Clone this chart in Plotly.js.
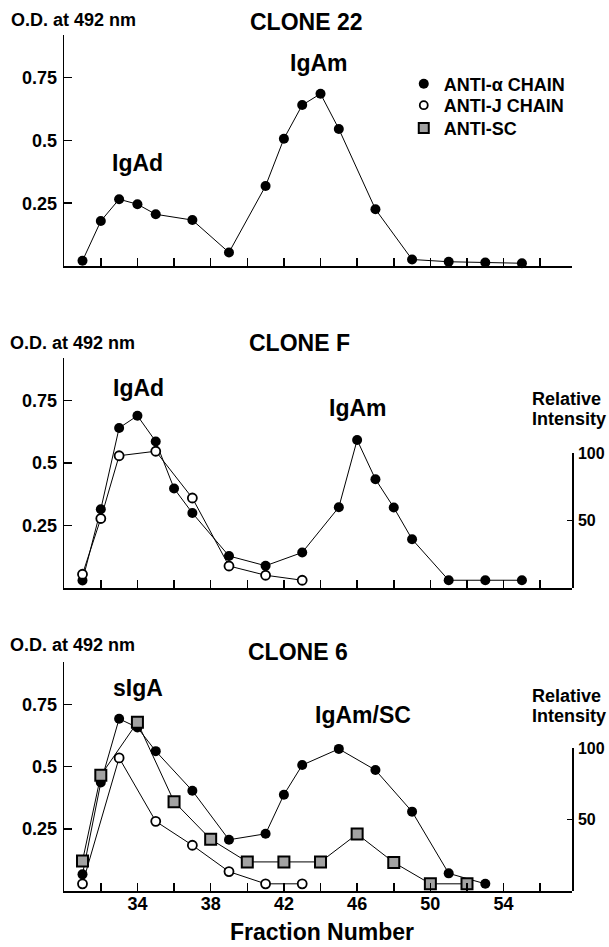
<!DOCTYPE html>
<html><head><meta charset="utf-8">
<script src="https://cdn.plot.ly/plotly-3.0.1.min.js"></script>
<style>html,body{margin:0;padding:0;background:#fff}#chart{width:609px;height:947px}</style>
</head><body><div id="chart"></div>
<script>
// ---- data (fraction number vs O.D. at 492 nm) ----
const clone22Frac  = [31,32,33,34,35,37,39,41,42,43,44,45,47,49,51,53,55];
const clone22Alpha = [0.021,0.179,0.266,0.246,0.206,0.183,0.054,0.319,0.507,0.641,0.686,0.546,0.226,0.026,0.017,0.014,0.011];

const cloneFAlphaFrac = [31,32,33,34,35,36,37,39,41,43,45,46,47,48,49,51,53,55];
const cloneFAlpha     = [0.030,0.315,0.640,0.689,0.586,0.398,0.300,0.128,0.089,0.142,0.323,0.592,0.435,0.322,0.195,0.031,0.031,0.031];
const cloneFJFrac     = [31,32,33,35,37,39,41,43];
const cloneFJ         = [0.055,0.278,0.529,0.547,0.360,0.088,0.051,0.031];

const clone6AlphaFrac = [31,32,33,34,35,37,39,41,42,43,45,47,49,51,53];
const clone6Alpha     = [0.067,0.436,0.692,0.657,0.562,0.403,0.206,0.230,0.387,0.506,0.571,0.486,0.319,0.071,0.029];
const clone6JFrac     = [31,33,35,37,39,41,43];
const clone6J         = [0.029,0.535,0.280,0.184,0.078,0.029,0.029];
const clone6SCFrac    = [31,32,34,36,38,40,42,44,46,48,50,52];
const clone6SC        = [0.121,0.465,0.678,0.359,0.208,0.117,0.117,0.117,0.229,0.115,0.029,0.029];

const seriesNames = ['ANTI-\u03b1 CHAIN','ANTI-J CHAIN','ANTI-SC'];
const xTickVals = [32,34,36,38,40,42,44,46,48,50,52,54,56];
const xTickText = ['','34','','38','','42','','46','','50','','54',''];
const yTickVals = [0.25,0.5,0.75];
const yTickText = ['0.25','0.5','0.75'];
const riTickVals = [50,100];
const riTickText = ['50','100'];
const panelTitles = ['CLONE 22','CLONE F','CLONE 6'];

// ---- styles ----
const FONT = 'Liberation Sans, Arial, sans-serif';
const mAlpha = {symbol:'circle', size:10, color:'#000', line:{color:'#000', width:0}};
const mJ     = {symbol:'circle', size:9, color:'#fff', line:{color:'#000', width:1.8}};
const mSC    = {symbol:'square', size:11, color:'#a2a2a2', line:{color:'#000', width:2}};
const ln = {color:'#000', width:1};

function tr(x, y, xa, ya, marker){
  return {x:x, y:y, xaxis:xa, yaxis:ya, type:'scatter', mode:'lines+markers',
          line:ln, marker:marker, showlegend:false, hoverinfo:'skip', cliponaxis:false};
}
function legTr(name, marker, leg){
  return {x:[null], y:[null], xaxis:'x', yaxis:'y', type:'scatter', mode:'markers',
          marker:marker, name:name, legend:leg, showlegend:true, hoverinfo:'skip'};
}

const data = [
  tr(clone22Frac, clone22Alpha, 'x', 'y', mAlpha),
  tr(cloneFAlphaFrac, cloneFAlpha, 'x2', 'y2', mAlpha),
  tr(cloneFJFrac, cloneFJ, 'x2', 'y2', mJ),
  tr(clone6AlphaFrac, clone6Alpha, 'x3', 'y3', mAlpha),
  tr(clone6JFrac, clone6J, 'x3', 'y3', mJ),
  tr(clone6SCFrac, clone6SC, 'x3', 'y3', mSC),
  // right-hand relative intensity axes
  {x:[], y:[], xaxis:'x2', yaxis:'y4', type:'scatter', mode:'markers', showlegend:false, hoverinfo:'skip'},
  {x:[], y:[], xaxis:'x3', yaxis:'y5', type:'scatter', mode:'markers', showlegend:false, hoverinfo:'skip'},
  // legend entries (one legend per row for exact row spacing)
  legTr(seriesNames[0], mAlpha, 'legend'),
  legTr(seriesNames[1], Object.assign({}, mJ, {size:8}), 'legend2'),
  legTr(seriesNames[2], Object.assign({}, mSC, {size:10}), 'legend3')
];

const XD = [0.1054, 0.9397];
const TF = {family:FONT, size:18, weight:'bold', color:'#000'};
function xax(anchor, showLabels){
  return {domain:XD, anchor:anchor, range:[30,57.75], tickmode:'array', tickvals:xTickVals,
    ticktext: showLabels ? xTickText : xTickVals.map(()=>''),
    ticks:'inside', ticklen:8, tickwidth:1.5, tickcolor:'#000', ticklabelstandoff:-5,
    showline:true, linewidth:2, linecolor:'#000', showgrid:false, zeroline:false,
    tickfont:TF, automargin:false, fixedrange:true};
}
function yax(anchor, dom){
  return {domain:dom, anchor:anchor, range:[0,0.92], tickmode:'array', tickvals:yTickVals, ticktext:yTickText,
    ticks:'inside', ticklen:8, tickwidth:1.5, tickcolor:'#000', ticklabelstandoff:2,
    showline:true, linewidth:1.5, linecolor:'#000', showgrid:false, zeroline:false,
    tickfont:TF, automargin:false, fixedrange:true};
}
function rax(dom){
  return {domain:dom, anchor:'free', position:XD[1], side:'right', range:[0,100],
    tickmode:'array', tickvals:riTickVals, ticktext:riTickText,
    ticks:'inside', ticklen:5, tickwidth:1.5, tickcolor:'#000', ticklabelstandoff:1,
    showline:true, linewidth:1.5, linecolor:'#000', showgrid:false, zeroline:false,
    tickfont:{family:FONT, size:16, weight:'bold', color:'#000'}, automargin:false, fixedrange:true};
}

function ann(text, x, y, size, xanchor, yanchor){
  return {text:text, x:x, y:y, xref:'paper', yref:'paper', showarrow:false,
    xanchor:xanchor||'center', yanchor:yanchor||'middle',
    font:{family:FONT, size:size, weight:'bold', color:'#000'}};
}

const annotations = [
  ann('O.D. at 492 nm', 0.0150, 0.9789, 18, 'left'),
  ann('O.D. at 492 nm', 0.0130, 0.6381, 18, 'left'),
  ann('O.D. at 492 nm', 0.0130, 0.3189, 18, 'left'),
  ann(panelTitles[0], 0.5025, 0.9768, 23),
  ann(panelTitles[1], 0.4916, 0.6381, 23),
  ann(panelTitles[2], 0.4900, 0.3118, 23),
  ann('IgAd', 0.2263, 0.8276, 23),
  ann('IgAm', 0.5235, 0.9332, 23),
  ann('IgAd', 0.2282, 0.5900, 23),
  ann('IgAm', 0.5874, 0.5688, 23),
  ann('sIgA', 0.2266, 0.2732, 23),
  ann('IgAm/SC', 0.5960, 0.2450, 23),
  ann('Relative', 0.8700, 1 - 399/947, 18, 'left'),
  ann('Intensity', 0.8700, 1 - 418.5/947, 18, 'left'),
  ann('Relative', 0.8700, 1 - 696/947, 18, 'left'),
  ann('Intensity', 0.8700, 1 - 715.5/947, 18, 'left'),
  ann('Fraction Number', 0.5283, 0.0, 23, 'center', 'bottom')
];

const LF = {family:FONT, size:18, weight:'bold', color:'#000'};
function leg(y){
  return {x:0.663, y:y, xanchor:'left', yanchor:'middle', bgcolor:'rgba(0,0,0,0)', borderwidth:0, font:LF};
}

const layout = {
  width:609, height:947, margin:{l:0, r:0, t:0, b:0},
  paper_bgcolor:'#fff', plot_bgcolor:'rgba(0,0,0,0)',
  font:{family:FONT, weight:'bold', color:'#000'},
  xaxis: xax('y', false),
  xaxis2: xax('y2', false),
  xaxis3: xax('y3', true),
  yaxis: yax('x', [0.7191, 0.9630]),
  yaxis2: yax('x2', [0.3791, 0.6220]),
  yaxis3: yax('x3', [0.0591, 0.3009]),
  yaxis4: rax([0.3791, 0.5217]),
  yaxis5: rax([0.0591, 0.2101]),
  showlegend:true,
  legend: leg(1 - 84/947),
  legend2: leg(1 - 105.5/947),
  legend3: leg(1 - 128.3/947),
  annotations: annotations
};

Plotly.newPlot('chart', data, layout, {staticPlot:true, displayModeBar:false});
</script>
</body></html>
